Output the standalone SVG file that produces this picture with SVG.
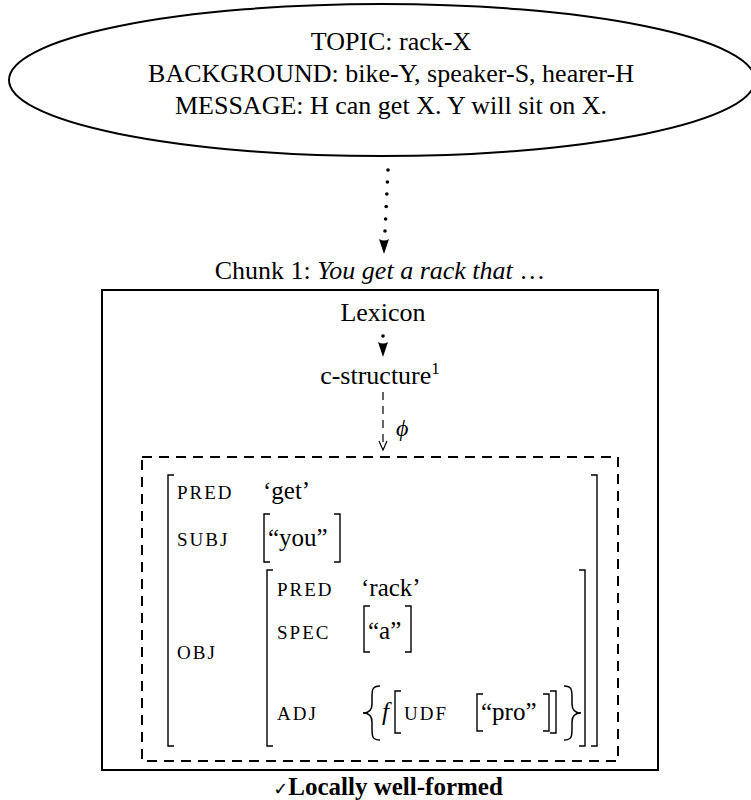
<svg xmlns="http://www.w3.org/2000/svg" width="751" height="800" viewBox="0 0 751 800">
<style>
text{font-family:'Liberation Serif','DejaVu Serif',serif;fill:#000}
.t{font-size:26px}
.v{font-size:25px}
.sc{font-size:19px;letter-spacing:2px}
.it{font-style:italic}
.br{fill:none;stroke:#000;stroke-width:1.4}
.ln{fill:none;stroke:#000}
</style>
<defs>
<marker id="ah" viewBox="0 0 10 14" refX="5" refY="13" markerWidth="10" markerHeight="14" markerUnits="userSpaceOnUse" orient="auto-start-reverse">
<path d="M0,0 Q5,3 10,0 L5,14 Z" fill="#000"/>
</marker>
</defs>

<g id="message">
<ellipse cx="382" cy="80" rx="373" ry="76" fill="#fff" stroke="#000" stroke-width="2"/>
<text class="t" x="391" y="50" text-anchor="middle">TOPIC: rack-X</text>
<text class="t" x="391" y="82" text-anchor="middle">BACKGROUND: bike-Y, speaker-S, hearer-H</text>
<text class="t" x="391" y="114" text-anchor="middle">MESSAGE: H can get X. Y will sit on X.</text>
</g>

<g id="connectors">
<g fill="#000">
<circle cx="388" cy="170" r="1.8"/>
<circle cx="387.4" cy="182" r="1.8"/>
<circle cx="386.8" cy="194" r="1.8"/>
<circle cx="386.2" cy="206.5" r="1.8"/>
<circle cx="385.6" cy="219" r="1.8"/>
<circle cx="385" cy="231" r="1.8"/>
<path d="M379,239 Q384,242 389,239 L384,254 Z"/>
<circle cx="383" cy="336" r="1.8"/>
<path d="M378,342 Q383,345 388,342 L383,357 Z"/>
</g>
<path class="ln" d="M383,392 L383,448" stroke-width="1.2" stroke-dasharray="8,6"/>
<path class="ln" d="M379,441 L383,450 L387,441" stroke-width="1.2"/>
<text x="396" y="436" font-size="24" class="it">ϕ</text>
</g>

<g id="chunk">
<text class="t" x="380" y="279" text-anchor="middle">Chunk 1: <tspan class="it">You get a rack that</tspan> …</text>
<rect x="102" y="290" width="556" height="480" fill="none" stroke="#000" stroke-width="2"/>
</g>

<g id="lexicon">
<text class="t" x="383" y="321" text-anchor="middle">Lexicon</text>
</g>

<g id="cstructure">
<text class="t" x="380" y="384" text-anchor="middle">c-structure<tspan font-size="17" dy="-10">1</tspan></text>
</g>

<g id="fstructure">
<rect x="142" y="457" width="476" height="304" fill="none" stroke="#000" stroke-width="2" stroke-dasharray="10,7"/>
<path class="br" d="M174,475 L168,475 L168,746 L174,746"/>
<path class="br" d="M591,475 L597,475 L597,746 L591,746"/>
<text class="sc" x="177" y="499">PRED</text>
<text class="v" x="263" y="499">‘get’</text>
<text class="sc" x="177" y="546">SUBJ</text>
<path class="br" d="M270,514 L264,514 L264,562 L270,562"/>
<path class="br" d="M334,514 L340,514 L340,562 L334,562"/>
<text class="v" x="268" y="546">“you”</text>
<text class="sc" x="177" y="659">OBJ</text>
<path class="br" d="M273,570 L267,570 L267,746 L273,746"/>
<path class="br" d="M579,570 L585,570 L585,746 L579,746"/>
<text class="sc" x="277" y="596">PRED</text>
<text class="v" x="361" y="596">‘rack’</text>
<text class="sc" x="277" y="639">SPEC</text>
<path class="br" d="M370,606 L364,606 L364,652 L370,652"/>
<path class="br" d="M405,606 L411,606 L411,652 L405,652"/>
<text class="v" x="368" y="639">“a”</text>
<text class="sc" x="277" y="720">ADJ</text>
<path class="ln" stroke-width="1.5" d="M380,686 C372,686 372,690 372,698 L372,704 C372,710 369,713 363,713 C369,713 372,716 372,722 L372,728 C372,736 372,740 380,740"/>
<text class="v it" x="382" y="720">f</text>
<path class="br" d="M401,691 L395,691 L395,733 L401,733"/>
<text class="sc" x="404" y="720">UDF</text>
<path class="br" d="M483,694 L477,694 L477,731 L483,731"/>
<text class="v" x="481" y="720">“pro”</text>
<path class="br" d="M543,694 L549,694 L549,731 L543,731"/>
<path class="br" d="M550,691 L556,691 L556,733 L550,733"/>
<path class="ln" stroke-width="1.5" d="M564,686 C572,686 572,690 572,698 L572,704 C572,710 575,713 581,713 C575,713 572,716 572,722 L572,728 C572,736 572,740 564,740"/>
</g>

<g id="verdict">
<text x="388" y="795" text-anchor="middle" font-size="25" font-weight="bold"><tspan font-family="DejaVu Sans" font-weight="normal" font-size="18">✓</tspan>Locally well-formed</text>
</g>
</svg>
